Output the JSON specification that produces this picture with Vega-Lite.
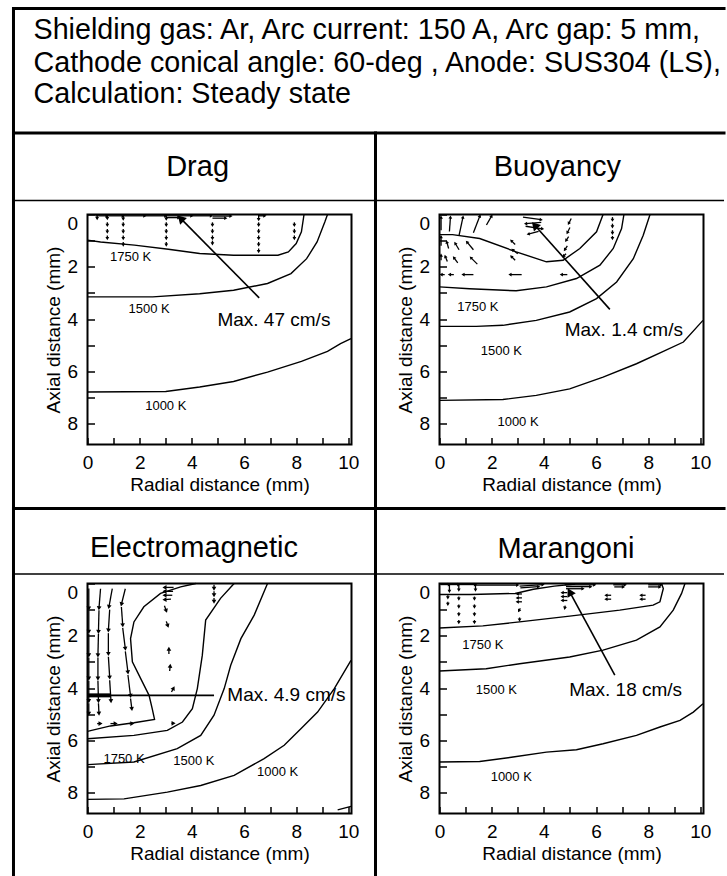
{
  "$schema": "https://vega.github.io/schema/vega-lite/v6.json",
  "background": "white",
  "padding": {"left": 9.5, "top": 4.5, "right": 0, "bottom": 0},
  "bounds": "flush",
  "columns": 2,
  "spacing": {"row": 139, "column": 88},
  "config": {
    "font": "Liberation Sans",
    "view": {"stroke": "black", "strokeWidth": 2},
    "axis": {
      "domain": false, "grid": false, "ticks": true, "tickSize": -7, "tickWidth": 1.5, "tickColor": "black",
      "labelFont": "Liberation Sans", "titleFont": "Liberation Sans",
      "labelFontSize": 19, "titleFontSize": 19, "titleFontWeight": "normal",
      "labelColor": "black", "titleColor": "black", "titlePadding": 3, "labelOverlap": false
    },
    "axisX": {"labelPadding": 16},
    "axisY": {"labelPadding": 17},
    "text": {"font": "Liberation Sans", "color": "black"}
  },
  "datasets": {
    "frame": [
      {"w": "thick", "r": -2.837, "z": -7.88, "r2": 24.4, "z2": -7.88},
      {"w": "thick", "r": -2.837, "z": -3.118, "r2": 24.4, "z2": -3.118},
      {"w": "thick", "r": -2.837, "z": -7.88, "r2": -2.837, "z2": 25.27},
      {"w": "thick", "r": 11.04, "z": -3.118, "r2": 11.04, "z2": 25.27},
      {"w": "thick", "r": -2.837, "z": 11.249, "r2": 24.4, "z2": 11.249},
      {"w": "thin", "r": -2.837, "z": -0.536, "r2": 24.4, "z2": -0.536},
      {"w": "thin", "r": -2.837, "z": 13.754, "r2": 24.4, "z2": 13.754}
    ],
    "heading": [
      {"t": "Shielding gas: Ar, Arc current: 150 A, Arc gap: 5 mm,", "r": -2.07, "z": -6.72},
      {"t": "Cathode conical angle: 60-deg , Anode: SUS304 (LS),", "r": -2.07, "z": -5.47},
      {"t": "Calculation: Steady state", "r": -2.07, "z": -4.25}
    ],
    "dragC": [
      {"c": "1750", "i": 0, "r": 0, "z": 0.98}, {"c": "1750", "i": 1, "r": 0.5, "z": 1.05}, {"c": "1750", "i": 2, "r": 1.8, "z": 1.17},
      {"c": "1750", "i": 3, "r": 3.1, "z": 1.33}, {"c": "1750", "i": 4, "r": 4.3, "z": 1.49}, {"c": "1750", "i": 5, "r": 5.6, "z": 1.56},
      {"c": "1750", "i": 6, "r": 7.3, "z": 1.56}, {"c": "1750", "i": 7, "r": 7.7, "z": 1.43}, {"c": "1750", "i": 8, "r": 8.0, "z": 1.11},
      {"c": "1750", "i": 9, "r": 8.2, "z": 0.66}, {"c": "1750", "i": 10, "r": 8.3, "z": 0},
      {"c": "1500", "i": 0, "r": 0, "z": 3.15}, {"c": "1500", "i": 1, "r": 2.5, "z": 3.15}, {"c": "1500", "i": 2, "r": 4.3, "z": 3.03},
      {"c": "1500", "i": 3, "r": 5.6, "z": 2.9}, {"c": "1500", "i": 4, "r": 6.9, "z": 2.64}, {"c": "1500", "i": 5, "r": 7.8, "z": 2.26},
      {"c": "1500", "i": 6, "r": 8.4, "z": 1.69}, {"c": "1500", "i": 7, "r": 8.8, "z": 1.05}, {"c": "1500", "i": 8, "r": 9.1, "z": 0.28},
      {"c": "1500", "i": 9, "r": 9.2, "z": 0},
      {"c": "1000", "i": 0, "r": 0, "z": 6.79}, {"c": "1000", "i": 1, "r": 3.0, "z": 6.77}, {"c": "1000", "i": 2, "r": 4.3, "z": 6.6},
      {"c": "1000", "i": 3, "r": 5.6, "z": 6.39}, {"c": "1000", "i": 4, "r": 6.9, "z": 6.03}, {"c": "1000", "i": 5, "r": 8.2, "z": 5.62},
      {"c": "1000", "i": 6, "r": 9.2, "z": 5.24}, {"c": "1000", "i": 7, "r": 9.7, "z": 4.94}, {"c": "1000", "i": 8, "r": 10.1, "z": 4.75}
    ],
    "dragV": [
      {"r": 0.3, "z": 0.05, "r2": 0.75, "z2": 0.05}, {"r": 0.76, "z": 0.05, "r2": 1.37, "z2": 0.05},
      {"r": 1.37, "z": 0.05, "r2": 2.2, "z2": 0.05}, {"r": 2.2, "z": 0.05, "r2": 3.0, "z2": 0.05},
      {"r": 3.02, "z": 0.05, "r2": 4.0, "z2": 0.05}, {"r": 4.0, "z": 0.05, "r2": 4.75, "z2": 0.05},
      {"r": 4.79, "z": 0.06, "r2": 5.5, "z2": 0.06}, {"r": 6.56, "z": 0.05, "r2": 6.8, "z2": 0.05},
      {"r": 3.02, "z": 0.12, "r2": 3.5, "z2": 0.12}, {"r": 4.79, "z": 0.14, "r2": 5.3, "z2": 0.14},
      {"r": 0.37, "z": 0.0, "r2": 0.37, "z2": 0.16}, {"r": 0.76, "z": 0.0, "r2": 0.76, "z2": 0.16},
      {"r": 1.37, "z": 0.0, "r2": 1.37, "z2": 0.18}, {"r": 3.02, "z": 0.0, "r2": 3.02, "z2": 0.18},
      {"r": 6.56, "z": 0.0, "r2": 6.56, "z2": 0.2},
      {"r": 0.76, "z": 0.3, "r2": 0.76, "z2": 0.42}, {"r": 0.76, "z": 0.55, "r2": 0.76, "z2": 0.67}, {"r": 0.76, "z": 0.8, "r2": 0.76, "z2": 0.92},
      {"r": 1.37, "z": 0.3, "r2": 1.37, "z2": 0.42}, {"r": 1.37, "z": 0.55, "r2": 1.37, "z2": 0.67}, {"r": 1.37, "z": 0.8, "r2": 1.37, "z2": 0.92}, {"r": 1.37, "z": 1.05, "r2": 1.37, "z2": 1.17},
      {"r": 3.02, "z": 0.3, "r2": 3.02, "z2": 0.42}, {"r": 3.02, "z": 0.55, "r2": 3.02, "z2": 0.67}, {"r": 3.02, "z": 0.8, "r2": 3.02, "z2": 0.92}, {"r": 3.02, "z": 1.05, "r2": 3.02, "z2": 1.17},
      {"r": 4.79, "z": 0.3, "r2": 4.79, "z2": 0.42}, {"r": 4.79, "z": 0.55, "r2": 4.79, "z2": 0.67}, {"r": 4.79, "z": 0.8, "r2": 4.79, "z2": 0.92}, {"r": 4.79, "z": 1.0, "r2": 4.79, "z2": 1.12},
      {"r": 6.56, "z": 0.3, "r2": 6.56, "z2": 0.42}, {"r": 6.56, "z": 0.55, "r2": 6.56, "z2": 0.67}, {"r": 6.56, "z": 0.8, "r2": 6.56, "z2": 0.92}, {"r": 6.56, "z": 1.05, "r2": 6.56, "z2": 1.17}, {"r": 6.56, "z": 1.3, "r2": 6.56, "z2": 1.42},
      {"r": 7.93, "z": 0.3, "r2": 7.93, "z2": 0.42}, {"r": 7.93, "z": 0.55, "r2": 7.93, "z2": 0.67}, {"r": 7.93, "z": 0.8, "r2": 7.93, "z2": 0.92}
    ],
    "dragT": [
      {"k": "iso", "t": "1750 K", "r": 1.65, "z": 1.62},
      {"k": "iso", "t": "1500 K", "r": 2.36, "z": 3.6},
      {"k": "iso", "t": "1000 K", "r": 3.0, "z": 7.31},
      {"k": "max", "t": "Max. 47 cm/s", "r": 4.98, "z": 4.05},
      {"k": "hdr", "t": "Drag", "r": 4.22, "z": -1.454}
    ],
    "dragA": [{"r": 6.58, "z": 3.19, "r2": 3.57, "z2": 0.15}],
    "buoyC": [
      {"c": "a", "i": 0, "r": 0, "z": 0.77}, {"c": "a", "i": 1, "r": 0.5, "z": 0.77}, {"c": "a", "i": 2, "r": 1.54, "z": 0.92},
      {"c": "a", "i": 3, "r": 2.94, "z": 1.43}, {"c": "a", "i": 4, "r": 4.1, "z": 1.81}, {"c": "a", "i": 5, "r": 4.74, "z": 1.75},
      {"c": "a", "i": 6, "r": 5.38, "z": 1.3}, {"c": "a", "i": 7, "r": 6.02, "z": 0.66}, {"c": "a", "i": 8, "r": 6.27, "z": 0},
      {"c": "b", "i": 0, "r": 0, "z": 2.77}, {"c": "b", "i": 1, "r": 1.15, "z": 2.84}, {"c": "b", "i": 2, "r": 2.94, "z": 2.92},
      {"c": "b", "i": 3, "r": 4.1, "z": 2.77}, {"c": "b", "i": 4, "r": 5.25, "z": 2.45}, {"c": "b", "i": 5, "r": 6.15, "z": 1.94},
      {"c": "b", "i": 6, "r": 6.66, "z": 1.3}, {"c": "b", "i": 7, "r": 6.98, "z": 0.54}, {"c": "b", "i": 8, "r": 7.07, "z": 0},
      {"c": "c", "i": 0, "r": 0, "z": 4.28}, {"c": "c", "i": 1, "r": 1.41, "z": 4.28}, {"c": "c", "i": 2, "r": 2.43, "z": 4.24},
      {"c": "c", "i": 3, "r": 3.71, "z": 4.05}, {"c": "c", "i": 4, "r": 4.99, "z": 3.73}, {"c": "c", "i": 5, "r": 6.02, "z": 3.22},
      {"c": "c", "i": 6, "r": 6.79, "z": 2.58}, {"c": "c", "i": 7, "r": 7.43, "z": 1.69}, {"c": "c", "i": 8, "r": 7.81, "z": 0.79},
      {"c": "c", "i": 9, "r": 8.07, "z": 0},
      {"c": "d", "i": 0, "r": 0, "z": 7.11}, {"c": "d", "i": 1, "r": 2.43, "z": 7.08}, {"c": "d", "i": 2, "r": 3.71, "z": 6.92},
      {"c": "d", "i": 3, "r": 4.99, "z": 6.67}, {"c": "d", "i": 4, "r": 6.27, "z": 6.22}, {"c": "d", "i": 5, "r": 7.55, "z": 5.71},
      {"c": "d", "i": 6, "r": 8.58, "z": 5.24}, {"c": "d", "i": 7, "r": 9.35, "z": 4.88}, {"c": "d", "i": 8, "r": 10.1, "z": 4.05}
    ],
    "buoyV": [
      {"r": 0.06, "z": 0.6, "r2": 0.06, "z2": 0.1}, {"r": 0.06, "z": 1.2, "r2": 0.06, "z2": 0.85}, {"r": 0.06, "z": 1.75, "r2": 0.06, "z2": 1.55},
      {"r": 0.38, "z": 0.65, "r2": 0.42, "z2": 0.1}, {"r": 0.35, "z": 1.3, "r2": 0.28, "z2": 1.05}, {"r": 0.3, "z": 1.8, "r2": 0.22, "z2": 1.6},
      {"r": 0.75, "z": 0.8, "r2": 0.9, "z2": 0.1}, {"r": 0.75, "z": 1.35, "r2": 0.6, "z2": 1.1}, {"r": 0.7, "z": 1.85, "r2": 0.55, "z2": 1.65},
      {"r": 1.3, "z": 0.7, "r2": 1.55, "z2": 0.05}, {"r": 1.3, "z": 1.35, "r2": 1.05, "z2": 1.05}, {"r": 1.45, "z": 1.9, "r2": 1.2, "z2": 1.65},
      {"r": 1.8, "z": 0.4, "r2": 2.0, "z2": 0.05},
      {"r": 0.2, "z": 2.3, "r2": 0.06, "z2": 2.3}, {"r": 0.55, "z": 2.3, "r2": 0.38, "z2": 2.3}, {"r": 1.3, "z": 2.3, "r2": 0.9, "z2": 2.3},
      {"r": 3.15, "z": 2.3, "r2": 2.7, "z2": 2.3}, {"r": 4.9, "z": 2.3, "r2": 4.67, "z2": 2.3},
      {"r": 3.2, "z": 0.1, "r2": 3.9, "z2": 0.2}, {"r": 3.9, "z": 0.3, "r2": 3.3, "z2": 0.35}, {"r": 3.3, "z": 0.45, "r2": 3.95, "z2": 0.55},
      {"r": 3.8, "z": 0.65, "r2": 3.4, "z2": 0.75}, {"r": 2.9, "z": 1.15, "r2": 2.75, "z2": 1.0}, {"r": 3.0, "z": 1.5, "r2": 2.8, "z2": 1.35},
      {"r": 2.9, "z": 1.75, "r2": 2.75, "z2": 1.6},
      {"r": 5.05, "z": 0.15, "r2": 4.95, "z2": 0.35}, {"r": 5.0, "z": 0.5, "r2": 4.9, "z2": 0.7}, {"r": 4.95, "z": 0.85, "r2": 4.85, "z2": 1.0},
      {"r": 4.9, "z": 1.2, "r2": 4.8, "z2": 1.35}, {"r": 4.85, "z": 1.5, "r2": 4.75, "z2": 1.6},
      {"r": 6.63, "z": 0.1, "r2": 6.63, "z2": 0.22}, {"r": 6.63, "z": 0.35, "r2": 6.63, "z2": 0.47}, {"r": 6.63, "z": 0.6, "r2": 6.63, "z2": 0.72},
      {"r": 6.63, "z": 0.82, "r2": 6.63, "z2": 0.92}
    ],
    "buoyT": [
      {"k": "iso", "t": "1750 K", "r": 1.47, "z": 3.54},
      {"k": "iso", "t": "1500 K", "r": 2.37, "z": 5.24},
      {"k": "iso", "t": "1000 K", "r": 3.01, "z": 7.92},
      {"k": "max", "t": "Max. 1.4 cm/s", "r": 4.8, "z": 4.41},
      {"k": "hdr", "t": "Buoyancy", "r": 4.52, "z": -1.454}
    ],
    "buoyA": [{"r": 6.53, "z": 3.63, "r2": 3.65, "z2": 0.41}],
    "emC": [
      {"c": "a", "i": 0, "r": 4.15, "z": 0}, {"c": "a", "i": 1, "r": 3.57, "z": 0.13}, {"c": "a", "i": 2, "r": 2.8, "z": 0.38},
      {"c": "a", "i": 3, "r": 2.16, "z": 0.89}, {"c": "a", "i": 4, "r": 1.78, "z": 1.47}, {"c": "a", "i": 5, "r": 1.65, "z": 2.11},
      {"c": "a", "i": 6, "r": 1.72, "z": 3.0}, {"c": "a", "i": 7, "r": 2.04, "z": 3.64}, {"c": "a", "i": 8, "r": 2.36, "z": 4.28},
      {"c": "a", "i": 9, "r": 2.48, "z": 4.79}, {"c": "a", "i": 10, "r": 2.57, "z": 5.2}, {"c": "a", "i": 11, "r": 1.78, "z": 5.33},
      {"c": "a", "i": 12, "r": 0.88, "z": 5.45}, {"c": "a", "i": 13, "r": 0, "z": 5.66},
      {"c": "b", "i": 0, "r": 5.62, "z": 0}, {"c": "b", "i": 1, "r": 5.1, "z": 0.57}, {"c": "b", "i": 2, "r": 4.53, "z": 1.4},
      {"c": "b", "i": 3, "r": 4.4, "z": 2.75}, {"c": "b", "i": 4, "r": 4.21, "z": 4.02}, {"c": "b", "i": 5, "r": 4.02, "z": 4.79},
      {"c": "b", "i": 6, "r": 3.64, "z": 5.3}, {"c": "b", "i": 7, "r": 3.06, "z": 5.62}, {"c": "b", "i": 8, "r": 1.78, "z": 5.81},
      {"c": "b", "i": 9, "r": 0, "z": 5.94},
      {"c": "c", "i": 0, "r": 6.9, "z": 0}, {"c": "c", "i": 1, "r": 6.39, "z": 1.21}, {"c": "c", "i": 2, "r": 5.88, "z": 2.11},
      {"c": "c", "i": 3, "r": 5.49, "z": 3.13}, {"c": "c", "i": 4, "r": 5.24, "z": 4.02}, {"c": "c", "i": 5, "r": 4.85, "z": 5.04},
      {"c": "c", "i": 6, "r": 4.34, "z": 5.81}, {"c": "c", "i": 7, "r": 3.44, "z": 6.32}, {"c": "c", "i": 8, "r": 1.78, "z": 6.83},
      {"c": "c", "i": 9, "r": 0, "z": 6.93},
      {"c": "d", "i": 0, "r": 10.1, "z": 2.94}, {"c": "d", "i": 1, "r": 9.46, "z": 4.02}, {"c": "d", "i": 2, "r": 8.82, "z": 4.92},
      {"c": "d", "i": 3, "r": 8.18, "z": 5.56}, {"c": "d", "i": 4, "r": 7.54, "z": 6.19}, {"c": "d", "i": 5, "r": 6.77, "z": 6.7},
      {"c": "d", "i": 6, "r": 5.62, "z": 7.34}, {"c": "d", "i": 7, "r": 4.34, "z": 7.73}, {"c": "d", "i": 8, "r": 3.06, "z": 7.98},
      {"c": "d", "i": 9, "r": 1.4, "z": 8.24}, {"c": "d", "i": 10, "r": 0, "z": 8.26},
      {"c": "e", "i": 0, "r": 9.59, "z": 8.66}, {"c": "e", "i": 1, "r": 10.1, "z": 8.53}
    ],
    "emV": [
      {"r": 0.05, "z": 0.19, "r2": 0.05, "z2": 0.96}, {"r": 0.05, "z": 1.02, "r2": 0.05, "z2": 1.85}, {"r": 0.05, "z": 1.92, "r2": 0.05, "z2": 2.75},
      {"r": 0.05, "z": 2.83, "r2": 0.05, "z2": 3.64}, {"r": 0.05, "z": 3.72, "r2": 0.05, "z2": 4.5}, {"r": 0.05, "z": 4.58, "r2": 0.05, "z2": 4.98},
      {"r": 0.5, "z": 0.2, "r2": 0.44, "z2": 0.95}, {"r": 0.44, "z": 1.02, "r2": 0.42, "z2": 1.85}, {"r": 0.42, "z": 1.92, "r2": 0.4, "z2": 2.75},
      {"r": 0.4, "z": 2.83, "r2": 0.4, "z2": 3.64}, {"r": 0.4, "z": 3.72, "r2": 0.42, "z2": 4.5}, {"r": 0.42, "z": 4.58, "r2": 0.44, "z2": 4.98},
      {"r": 0.95, "z": 0.2, "r2": 0.82, "z2": 0.9}, {"r": 0.85, "z": 1.0, "r2": 0.8, "z2": 1.8}, {"r": 0.8, "z": 1.9, "r2": 0.8, "z2": 2.7},
      {"r": 0.8, "z": 2.8, "r2": 0.85, "z2": 3.6}, {"r": 0.85, "z": 3.7, "r2": 0.9, "z2": 4.5},
      {"r": 1.45, "z": 0.2, "r2": 1.3, "z2": 0.8}, {"r": 1.3, "z": 0.9, "r2": 1.35, "z2": 1.6}, {"r": 1.35, "z": 1.7, "r2": 1.45, "z2": 2.5},
      {"r": 1.45, "z": 2.6, "r2": 1.55, "z2": 3.4}, {"r": 1.55, "z": 3.5, "r2": 1.65, "z2": 4.3}, {"r": 1.65, "z": 4.4, "r2": 1.7, "z2": 4.8},
      {"r": 3.3, "z": 0.15, "r2": 2.95, "z2": 0.15}, {"r": 3.28, "z": 0.3, "r2": 2.95, "z2": 0.3}, {"r": 3.25, "z": 0.45, "r2": 2.95, "z2": 0.45},
      {"r": 3.2, "z": 0.6, "r2": 2.95, "z2": 0.62}, {"r": 2.95, "z": 0.85, "r2": 3.02, "z2": 1.05}, {"r": 3.02, "z": 1.45, "r2": 3.08, "z2": 1.62},
      {"r": 3.12, "z": 2.7, "r2": 3.12, "z2": 2.5}, {"r": 3.15, "z": 3.35, "r2": 3.17, "z2": 3.15}, {"r": 3.22, "z": 4.15, "r2": 3.3, "z2": 4.0},
      {"r": 3.22, "z": 5.35, "r2": 3.3, "z2": 5.35},
      {"r": 4.85, "z": 0.05, "r2": 4.85, "z2": 0.2}, {"r": 4.85, "z": 0.3, "r2": 4.85, "z2": 0.45}, {"r": 4.85, "z": 0.55, "r2": 4.85, "z2": 0.7},
      {"r": 0.37, "z": 5.36, "r2": 0.5, "z2": 5.36}, {"r": 0.88, "z": 5.36, "r2": 1.08, "z2": 5.36}, {"r": 1.59, "z": 5.36, "r2": 1.72, "z2": 5.36}
    ],
    "emT": [
      {"k": "iso", "t": "1750 K", "r": 1.4, "z": 6.73},
      {"k": "iso", "t": "1500 K", "r": 4.08, "z": 6.81},
      {"k": "iso", "t": "1000 K", "r": 7.29, "z": 7.22},
      {"k": "max", "t": "Max. 4.9 cm/s", "r": 5.36, "z": 4.28},
      {"k": "hdr", "t": "Electromagnetic", "r": 4.08, "z": -1.006}
    ],
    "emA": [{"r": 4.85, "z": 4.28, "r2": 0, "z2": 4.28}],
    "emB": [{"r": 0, "z": 4.28, "r2": 0.88, "z2": 4.28}],
    "marC": [
      {"c": "a", "i": 0, "r": 0, "z": 0.42}, {"c": "a", "i": 1, "r": 1.2, "z": 0.42}, {"c": "a", "i": 2, "r": 2.9, "z": 0.38},
      {"c": "a", "i": 3, "r": 3.6, "z": 0.22}, {"c": "a", "i": 4, "r": 4.4, "z": 0.1}, {"c": "a", "i": 5, "r": 5.2, "z": 0.02},
      {"c": "b", "i": 0, "r": 0, "z": 1.7}, {"c": "b", "i": 1, "r": 1.66, "z": 1.62}, {"c": "b", "i": 2, "r": 3.07, "z": 1.47},
      {"c": "b", "i": 3, "r": 4.99, "z": 1.25}, {"c": "b", "i": 4, "r": 6.91, "z": 1.02}, {"c": "b", "i": 5, "r": 8.19, "z": 0.83},
      {"c": "b", "i": 6, "r": 8.45, "z": 0.7}, {"c": "b", "i": 7, "r": 8.58, "z": 0.19}, {"c": "b", "i": 8, "r": 8.51, "z": 0},
      {"c": "c", "i": 0, "r": 0, "z": 3.35}, {"c": "c", "i": 1, "r": 1.79, "z": 3.26}, {"c": "c", "i": 2, "r": 3.07, "z": 3.07},
      {"c": "c", "i": 3, "r": 4.99, "z": 2.81}, {"c": "c", "i": 4, "r": 6.27, "z": 2.55}, {"c": "c", "i": 5, "r": 7.55, "z": 2.17},
      {"c": "c", "i": 6, "r": 8.45, "z": 1.66}, {"c": "c", "i": 7, "r": 8.96, "z": 1.02}, {"c": "c", "i": 8, "r": 9.28, "z": 0.38},
      {"c": "c", "i": 9, "r": 9.41, "z": 0},
      {"c": "d", "i": 0, "r": 0, "z": 6.83}, {"c": "d", "i": 1, "r": 1.54, "z": 6.81}, {"c": "d", "i": 2, "r": 2.82, "z": 6.64},
      {"c": "d", "i": 3, "r": 4.1, "z": 6.45}, {"c": "d", "i": 4, "r": 5.25, "z": 6.36}, {"c": "d", "i": 5, "r": 6.27, "z": 6.13},
      {"c": "d", "i": 6, "r": 7.55, "z": 5.81}, {"c": "d", "i": 7, "r": 8.45, "z": 5.49}, {"c": "d", "i": 8, "r": 9.22, "z": 5.24},
      {"c": "d", "i": 9, "r": 9.73, "z": 4.92}, {"c": "d", "i": 10, "r": 10.1, "z": 4.6}
    ],
    "marV": [
      {"r": 0.05, "z": 0.04, "r2": 0.38, "z2": 0.04}, {"r": 0.38, "z": 0.04, "r2": 0.74, "z2": 0.04}, {"r": 0.74, "z": 0.04, "r2": 1.38, "z2": 0.04},
      {"r": 1.38, "z": 0.06, "r2": 3.0, "z2": 0.06},
      {"r": 3.07, "z": 0.1, "r2": 3.97, "z2": 0.04}, {"r": 3.1, "z": 0.17, "r2": 3.8, "z2": 0.12},
      {"r": 4.8, "z": 0.05, "r2": 5.95, "z2": 0.05}, {"r": 4.85, "z": 0.12, "r2": 5.8, "z2": 0.12}, {"r": 4.85, "z": 0.2, "r2": 5.5, "z2": 0.2},
      {"r": 6.66, "z": 0.05, "r2": 7.12, "z2": 0.05}, {"r": 6.7, "z": 0.13, "r2": 7.05, "z2": 0.13},
      {"r": 8.0, "z": 0.05, "r2": 8.5, "z2": 0.05}, {"r": 8.0, "z": 0.13, "r2": 8.45, "z2": 0.13},
      {"r": 0.38, "z": 0.0, "r2": 0.38, "z2": 0.3}, {"r": 0.74, "z": 0.0, "r2": 0.74, "z2": 0.25}, {"r": 1.38, "z": 0.0, "r2": 1.38, "z2": 0.25},
      {"r": 0.32, "z": 0.45, "r2": 0.32, "z2": 0.55}, {"r": 0.32, "z": 0.7, "r2": 0.32, "z2": 0.8},
      {"r": 0.74, "z": 0.5, "r2": 0.74, "z2": 0.6}, {"r": 0.74, "z": 0.8, "r2": 0.74, "z2": 0.9}, {"r": 0.74, "z": 1.1, "r2": 0.74, "z2": 1.2}, {"r": 0.74, "z": 1.4, "r2": 0.74, "z2": 1.5},
      {"r": 1.34, "z": 0.5, "r2": 1.34, "z2": 0.6}, {"r": 1.34, "z": 0.8, "r2": 1.34, "z2": 0.9}, {"r": 1.34, "z": 1.1, "r2": 1.34, "z2": 1.2}, {"r": 1.34, "z": 1.4, "r2": 1.34, "z2": 1.5},
      {"r": 3.16, "z": 0.4, "r2": 2.98, "z2": 0.4}, {"r": 3.16, "z": 0.55, "r2": 2.98, "z2": 0.55}, {"r": 3.16, "z": 0.7, "r2": 2.98, "z2": 0.7},
      {"r": 3.1, "z": 0.95, "r2": 3.04, "z2": 1.05}, {"r": 3.07, "z": 1.3, "r2": 3.07, "z2": 1.4},
      {"r": 4.9, "z": 0.35, "r2": 4.7, "z2": 0.35}, {"r": 4.9, "z": 0.5, "r2": 4.7, "z2": 0.5}, {"r": 4.9, "z": 0.65, "r2": 4.7, "z2": 0.65},
      {"r": 4.82, "z": 0.85, "r2": 4.8, "z2": 0.95},
      {"r": 6.58, "z": 0.45, "r2": 6.38, "z2": 0.45}, {"r": 6.58, "z": 0.6, "r2": 6.38, "z2": 0.6},
      {"r": 7.9, "z": 0.45, "r2": 7.72, "z2": 0.45}, {"r": 7.9, "z": 0.6, "r2": 7.72, "z2": 0.6}
    ],
    "marT": [
      {"k": "iso", "t": "1750 K", "r": 1.66, "z": 2.36},
      {"k": "iso", "t": "1500 K", "r": 2.18, "z": 4.09},
      {"k": "iso", "t": "1000 K", "r": 2.75, "z": 7.41},
      {"k": "max", "t": "Max. 18 cm/s", "r": 4.97, "z": 4.09},
      {"k": "hdr", "t": "Marangoni", "r": 4.85, "z": -0.96}
    ],
    "marA": [{"r": 6.72, "z": 3.51, "r2": 4.99, "z2": 0.32}]
  },
  "concat": [
    {
      "width": 264, "height": 230,
      "encoding": {
        "x": {"field": "r", "type": "quantitative", "scale": {"domain": [0, 10.12], "nice": false, "zero": false},
              "axis": {"title": "Radial distance (mm)", "values": [0,1,2,3,4,5,6,7,8,9,10], "labelExpr": "datum.value % 2 === 0 ? datum.label : ''", "labelFlush": false}},
        "y": {"field": "z", "type": "quantitative", "scale": {"domain": [0, 8.8], "nice": false, "zero": false, "reverse": true},
              "axis": {"title": "Axial distance (mm)", "values": [0,1,2,3,4,5,6,7,8], "labelExpr": "datum.value % 2 === 0 ? datum.label : ''", "labelFlush": true}}
      },
      "layer": [
        {"data": {"name": "frame"}, "transform": [{"filter": "datum.w === 'thick'"}],
         "mark": {"type": "rule", "color": "black", "strokeWidth": 3, "strokeCap": "square"},
         "encoding": {"x2": {"field": "r2"}, "y2": {"field": "z2"}}},
        {"data": {"name": "frame"}, "transform": [{"filter": "datum.w === 'thin'"}],
         "mark": {"type": "rule", "color": "black", "strokeWidth": 1.5},
         "encoding": {"x2": {"field": "r2"}, "y2": {"field": "z2"}}},
        {"data": {"name": "heading"}, "mark": {"type": "text", "align": "left", "baseline": "alphabetic", "fontSize": 28.7},
         "encoding": {"text": {"field": "t"}}},
        {"data": {"name": "dragC"}, "mark": {"type": "line", "color": "black", "strokeWidth": 1.4},
         "encoding": {"detail": {"field": "c"}, "order": {"field": "i"}}},
        {"data": {"name": "dragV"}, "mark": {"type": "rule", "color": "black", "strokeWidth": 1.3},
         "encoding": {"x2": {"field": "r2"}, "y2": {"field": "z2"}}},
        {"data": {"name": "dragV"},
         "transform": [{"calculate": "atan2(datum.r2 - datum.r, datum.z - datum.z2) * 180 / PI", "as": "ang"}, {"calculate": "datum.r2", "as": "r"}, {"calculate": "datum.z2", "as": "z"}],
         "mark": {"type": "point", "shape": "triangle-up", "filled": true, "color": "black", "opacity": 1, "size": 14},
         "encoding": {"angle": {"field": "ang", "type": "quantitative", "scale": null}}},
        {"data": {"name": "dragA"}, "mark": {"type": "rule", "color": "black", "strokeWidth": 1.6},
         "encoding": {"x2": {"field": "r2"}, "y2": {"field": "z2"}}},
        {"data": {"name": "dragA"},
         "transform": [{"calculate": "atan2(datum.r2 - datum.r, datum.z - datum.z2) * 180 / PI", "as": "ang"}, {"calculate": "datum.r2", "as": "r"}, {"calculate": "datum.z2", "as": "z"}],
         "mark": {"type": "point", "shape": "triangle-up", "filled": true, "color": "black", "opacity": 1, "size": 90},
         "encoding": {"angle": {"field": "ang", "type": "quantitative", "scale": null}}},
        {"data": {"name": "dragT"}, "transform": [{"filter": "datum.k === 'iso'"}],
         "mark": {"type": "text", "fontSize": 13, "align": "center", "baseline": "middle"}, "encoding": {"text": {"field": "t"}}},
        {"data": {"name": "dragT"}, "transform": [{"filter": "datum.k === 'max'"}],
         "mark": {"type": "text", "fontSize": 19, "align": "left", "baseline": "middle"}, "encoding": {"text": {"field": "t"}}},
        {"data": {"name": "dragT"}, "transform": [{"filter": "datum.k === 'hdr'"}],
         "mark": {"type": "text", "fontSize": 29, "align": "center", "baseline": "alphabetic"}, "encoding": {"text": {"field": "t"}}}
      ]
    },
    {
      "width": 264, "height": 230,
      "encoding": {
        "x": {"field": "r", "type": "quantitative", "scale": {"domain": [0, 10.12], "nice": false, "zero": false},
              "axis": {"title": "Radial distance (mm)", "values": [0,1,2,3,4,5,6,7,8,9,10], "labelExpr": "datum.value % 2 === 0 ? datum.label : ''", "labelFlush": false}},
        "y": {"field": "z", "type": "quantitative", "scale": {"domain": [0, 8.8], "nice": false, "zero": false, "reverse": true},
              "axis": {"title": "Axial distance (mm)", "values": [0,1,2,3,4,5,6,7,8], "labelExpr": "datum.value % 2 === 0 ? datum.label : ''", "labelFlush": true}}
      },
      "layer": [
        {"data": {"name": "buoyC"}, "mark": {"type": "line", "color": "black", "strokeWidth": 1.4},
         "encoding": {"detail": {"field": "c"}, "order": {"field": "i"}}},
        {"data": {"name": "buoyV"}, "mark": {"type": "rule", "color": "black", "strokeWidth": 1.3},
         "encoding": {"x2": {"field": "r2"}, "y2": {"field": "z2"}}},
        {"data": {"name": "buoyV"},
         "transform": [{"calculate": "atan2(datum.r2 - datum.r, datum.z - datum.z2) * 180 / PI", "as": "ang"}, {"calculate": "datum.r2", "as": "r"}, {"calculate": "datum.z2", "as": "z"}],
         "mark": {"type": "point", "shape": "triangle-up", "filled": true, "color": "black", "opacity": 1, "size": 14},
         "encoding": {"angle": {"field": "ang", "type": "quantitative", "scale": null}}},
        {"data": {"name": "buoyA"}, "mark": {"type": "rule", "color": "black", "strokeWidth": 1.6},
         "encoding": {"x2": {"field": "r2"}, "y2": {"field": "z2"}}},
        {"data": {"name": "buoyA"},
         "transform": [{"calculate": "atan2(datum.r2 - datum.r, datum.z - datum.z2) * 180 / PI", "as": "ang"}, {"calculate": "datum.r2", "as": "r"}, {"calculate": "datum.z2", "as": "z"}],
         "mark": {"type": "point", "shape": "triangle-up", "filled": true, "color": "black", "opacity": 1, "size": 90},
         "encoding": {"angle": {"field": "ang", "type": "quantitative", "scale": null}}},
        {"data": {"name": "buoyT"}, "transform": [{"filter": "datum.k === 'iso'"}],
         "mark": {"type": "text", "fontSize": 13, "align": "center", "baseline": "middle"}, "encoding": {"text": {"field": "t"}}},
        {"data": {"name": "buoyT"}, "transform": [{"filter": "datum.k === 'max'"}],
         "mark": {"type": "text", "fontSize": 19, "align": "left", "baseline": "middle"}, "encoding": {"text": {"field": "t"}}},
        {"data": {"name": "buoyT"}, "transform": [{"filter": "datum.k === 'hdr'"}],
         "mark": {"type": "text", "fontSize": 29, "align": "center", "baseline": "alphabetic"}, "encoding": {"text": {"field": "t"}}}
      ]
    },
    {
      "width": 264, "height": 230,
      "encoding": {
        "x": {"field": "r", "type": "quantitative", "scale": {"domain": [0, 10.12], "nice": false, "zero": false},
              "axis": {"title": "Radial distance (mm)", "values": [0,1,2,3,4,5,6,7,8,9,10], "labelExpr": "datum.value % 2 === 0 ? datum.label : ''", "labelFlush": false}},
        "y": {"field": "z", "type": "quantitative", "scale": {"domain": [0, 8.8], "nice": false, "zero": false, "reverse": true},
              "axis": {"title": "Axial distance (mm)", "values": [0,1,2,3,4,5,6,7,8], "labelExpr": "datum.value % 2 === 0 ? datum.label : ''", "labelFlush": true}}
      },
      "layer": [
        {"data": {"name": "emC"}, "mark": {"type": "line", "color": "black", "strokeWidth": 1.4},
         "encoding": {"detail": {"field": "c"}, "order": {"field": "i"}}},
        {"data": {"name": "emV"}, "mark": {"type": "rule", "color": "black", "strokeWidth": 1.3},
         "encoding": {"x2": {"field": "r2"}, "y2": {"field": "z2"}}},
        {"data": {"name": "emV"},
         "transform": [{"calculate": "atan2(datum.r2 - datum.r, datum.z - datum.z2) * 180 / PI", "as": "ang"}, {"calculate": "datum.r2", "as": "r"}, {"calculate": "datum.z2", "as": "z"}],
         "mark": {"type": "point", "shape": "triangle-up", "filled": true, "color": "black", "opacity": 1, "size": 22},
         "encoding": {"angle": {"field": "ang", "type": "quantitative", "scale": null}}},
        {"data": {"name": "emA"}, "mark": {"type": "rule", "color": "black", "strokeWidth": 1.6},
         "encoding": {"x2": {"field": "r2"}, "y2": {"field": "z2"}}},
        {"data": {"name": "emB"}, "mark": {"type": "rule", "color": "black", "strokeWidth": 4},
         "encoding": {"x2": {"field": "r2"}, "y2": {"field": "z2"}}},
        {"data": {"name": "emT"}, "transform": [{"filter": "datum.k === 'iso'"}],
         "mark": {"type": "text", "fontSize": 13, "align": "center", "baseline": "middle"}, "encoding": {"text": {"field": "t"}}},
        {"data": {"name": "emT"}, "transform": [{"filter": "datum.k === 'max'"}],
         "mark": {"type": "text", "fontSize": 19, "align": "left", "baseline": "middle"}, "encoding": {"text": {"field": "t"}}},
        {"data": {"name": "emT"}, "transform": [{"filter": "datum.k === 'hdr'"}],
         "mark": {"type": "text", "fontSize": 29, "align": "center", "baseline": "alphabetic"}, "encoding": {"text": {"field": "t"}}}
      ]
    },
    {
      "width": 264, "height": 230,
      "encoding": {
        "x": {"field": "r", "type": "quantitative", "scale": {"domain": [0, 10.12], "nice": false, "zero": false},
              "axis": {"title": "Radial distance (mm)", "values": [0,1,2,3,4,5,6,7,8,9,10], "labelExpr": "datum.value % 2 === 0 ? datum.label : ''", "labelFlush": false}},
        "y": {"field": "z", "type": "quantitative", "scale": {"domain": [0, 8.8], "nice": false, "zero": false, "reverse": true},
              "axis": {"title": "Axial distance (mm)", "values": [0,1,2,3,4,5,6,7,8], "labelExpr": "datum.value % 2 === 0 ? datum.label : ''", "labelFlush": true}}
      },
      "layer": [
        {"data": {"name": "marC"}, "mark": {"type": "line", "color": "black", "strokeWidth": 1.4},
         "encoding": {"detail": {"field": "c"}, "order": {"field": "i"}}},
        {"data": {"name": "marV"}, "mark": {"type": "rule", "color": "black", "strokeWidth": 1.3},
         "encoding": {"x2": {"field": "r2"}, "y2": {"field": "z2"}}},
        {"data": {"name": "marV"},
         "transform": [{"calculate": "atan2(datum.r2 - datum.r, datum.z - datum.z2) * 180 / PI", "as": "ang"}, {"calculate": "datum.r2", "as": "r"}, {"calculate": "datum.z2", "as": "z"}],
         "mark": {"type": "point", "shape": "triangle-up", "filled": true, "color": "black", "opacity": 1, "size": 14},
         "encoding": {"angle": {"field": "ang", "type": "quantitative", "scale": null}}},
        {"data": {"name": "marA"}, "mark": {"type": "rule", "color": "black", "strokeWidth": 1.6},
         "encoding": {"x2": {"field": "r2"}, "y2": {"field": "z2"}}},
        {"data": {"name": "marA"},
         "transform": [{"calculate": "atan2(datum.r2 - datum.r, datum.z - datum.z2) * 180 / PI", "as": "ang"}, {"calculate": "datum.r2", "as": "r"}, {"calculate": "datum.z2", "as": "z"}],
         "mark": {"type": "point", "shape": "triangle-up", "filled": true, "color": "black", "opacity": 1, "size": 90},
         "encoding": {"angle": {"field": "ang", "type": "quantitative", "scale": null}}},
        {"data": {"name": "marT"}, "transform": [{"filter": "datum.k === 'iso'"}],
         "mark": {"type": "text", "fontSize": 13, "align": "center", "baseline": "middle"}, "encoding": {"text": {"field": "t"}}},
        {"data": {"name": "marT"}, "transform": [{"filter": "datum.k === 'max'"}],
         "mark": {"type": "text", "fontSize": 19, "align": "left", "baseline": "middle"}, "encoding": {"text": {"field": "t"}}},
        {"data": {"name": "marT"}, "transform": [{"filter": "datum.k === 'hdr'"}],
         "mark": {"type": "text", "fontSize": 29, "align": "center", "baseline": "alphabetic"}, "encoding": {"text": {"field": "t"}}}
      ]
    }
  ]
}
